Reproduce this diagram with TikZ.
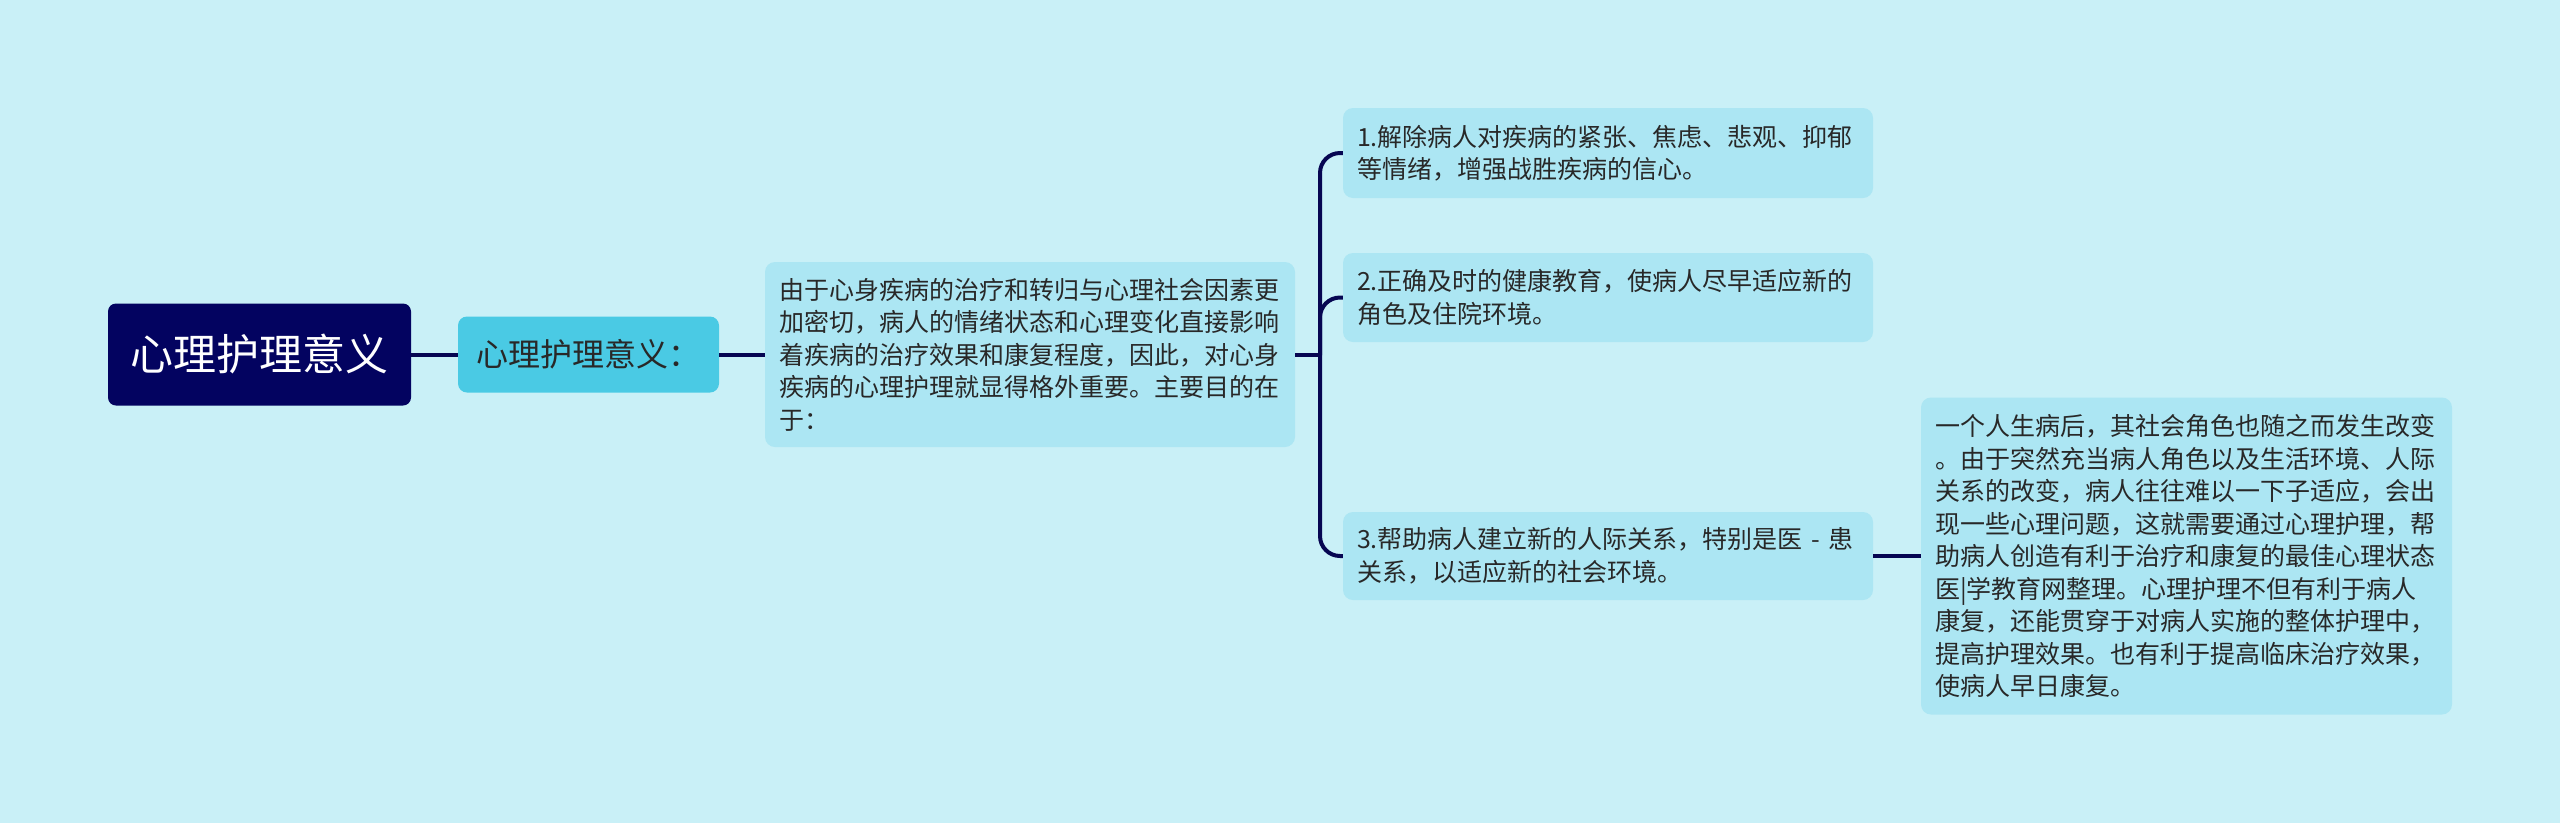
\documentclass[tikz,border=0pt]{standalone}
\usepackage{fontspec}
\setmainfont{Noto Sans CJK SC}
\definecolor{bgc}{RGB}{201,240,247}
\definecolor{rootc}{RGB}{3,3,96}
\definecolor{midc}{RGB}{74,202,228}
\definecolor{boxc}{RGB}{172,230,243}
\definecolor{linec}{RGB}{6,6,82}
\definecolor{txtc}{RGB}{40,40,40}
\begin{document}
\begin{tikzpicture}[x=1pt,y=-1pt,
  rootbox/.style={fill=rootc, rounded corners=8pt, text=white, inner sep=0pt,
    font=\fontsize{43pt}{50pt}\selectfont},
  midbox/.style={fill=midc, rounded corners=9pt, text=txtc, inner sep=0pt,
    font=\fontsize{32pt}{38pt}\selectfont},
  textbox/.style={fill=boxc, rounded corners=10pt, text=txtc, align=left,
    text width=502pt, inner xsep=14pt, inner ysep=0pt,
    font=\fontsize{25pt}{32.5pt}\selectfont},
  link/.style={draw=linec, line width=4pt},
]
\fill[bgc] (0,0) rectangle (2560,823);
\useasboundingbox (0,0) rectangle (2560,823);

\node[rootbox, minimum width=303pt, minimum height=102pt] (root) at (259.5,354.5) {心理护理意义};
\node[midbox, minimum width=261pt, minimum height=76pt] (mid) at (588.5,354.5) {心理护理意义：};
\node[textbox, minimum height=185pt] (main) at (1030,354.5) {由于心身疾病的治疗和转归与心理社会因素更\\加密切，病人的情绪状态和心理变化直接影响\\着疾病的治疗效果和康复程度，因此，对心身\\疾病的心理护理就显得格外重要。主要目的在\\于：};
\node[textbox, minimum height=90pt] (c1) at (1608,153) {1.解除病人对疾病的紧张、焦虑、悲观、抑郁\\等情绪，增强战胜疾病的信心。};
\node[textbox, minimum height=89pt] (c2) at (1608,297.5) {2.正确及时的健康教育，使病人尽早适应新的\\角色及住院环境。};
\node[textbox, minimum height=88pt] (c3) at (1608,556) {3.帮助病人建立新的人际关系，特别是医 - 患\\关系，以适应新的社会环境。};
\node[textbox, text width=503pt, minimum height=317pt] (gc) at (2186.5,556) {一个人生病后，其社会角色也随之而发生改变\\。由于突然充当病人角色以及生活环境、人际\\关系的改变，病人往往难以一下子适应，会出\\现一些心理问题，这就需要通过心理护理，帮\\助病人创造有利于治疗和康复的最佳心理状态\\医|学教育网整理。心理护理不但有利于病人\\康复，还能贯穿于对病人实施的整体护理中，\\提高护理效果。也有利于提高临床治疗效果，\\使病人早日康复。};

\coordinate (fork) at (1320,355);
\draw[link] (root.east) -- (mid.west);
\draw[link] (mid.east) -- (mid.east -| main.west);
\draw[link] (main.east |- fork) -- (fork);
\draw[link, rounded corners=20pt] (fork) |- (c1.west);
\draw[link, rounded corners=20pt] (fork) |- (c2.west);
\draw[link, rounded corners=20pt] (fork) |- (c3.west);
\draw[link] (c3.east) -- (c3.east -| gc.west);
\end{tikzpicture}
\end{document}
